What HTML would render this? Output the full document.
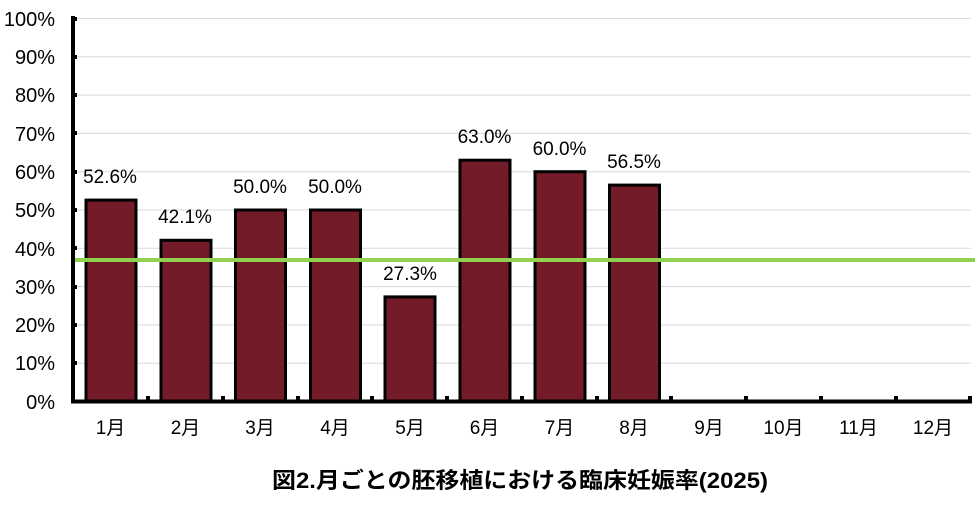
<!DOCTYPE html>
<html><head><meta charset="utf-8"><style>html,body{margin:0;padding:0;background:#fff}svg{display:block}</style></head><body>
<svg width="975" height="513" xmlns="http://www.w3.org/2000/svg" font-family="'Liberation Sans','Noto Sans CJK JP',sans-serif">
<g stroke="#d9d9d9" stroke-width="1">
<line x1="73" x2="971" y1="18.5" y2="18.5"/><line x1="73" x2="971" y1="56.8" y2="56.8"/><line x1="73" x2="971" y1="95.1" y2="95.1"/><line x1="73" x2="971" y1="133.4" y2="133.4"/><line x1="73" x2="971" y1="171.7" y2="171.7"/><line x1="73" x2="971" y1="210" y2="210"/><line x1="73" x2="971" y1="248.3" y2="248.3"/><line x1="73" x2="971" y1="286.6" y2="286.6"/><line x1="73" x2="971" y1="324.9" y2="324.9"/><line x1="73" x2="971" y1="363.2" y2="363.2"/>
</g>
<g fill="#741b29" stroke="#000" stroke-width="3">
<rect x="86" y="200.1" width="50" height="201.4"/>
<rect x="161" y="240.3" width="50" height="161.2"/>
<rect x="235.5" y="210" width="50" height="191.5"/>
<rect x="310.5" y="210" width="50" height="191.5"/>
<rect x="385" y="296.9" width="50" height="104.6"/>
<rect x="460" y="160.2" width="50" height="241.3"/>
<rect x="535" y="171.7" width="50" height="229.8"/>
<rect x="609.5" y="185.1" width="50" height="216.4"/>
</g>
<line x1="73" x2="975" y1="260" y2="260" stroke="#92d050" stroke-width="4"/>
<line x1="73" x2="73" y1="16" y2="403" stroke="#000" stroke-width="4"/>
<line x1="71" x2="972" y1="401.5" y2="401.5" stroke="#000" stroke-width="4"/>
<g fill="#000">
<rect x="73" y="17" width="4" height="4"/><rect x="73" y="55" width="4" height="4"/><rect x="73" y="93" width="4" height="4"/><rect x="73" y="131" width="4" height="4"/><rect x="73" y="170" width="4" height="4"/><rect x="73" y="208" width="4" height="4"/><rect x="73" y="246" width="4" height="4"/><rect x="73" y="285" width="4" height="4"/><rect x="73" y="323" width="4" height="4"/><rect x="73" y="361" width="4" height="4"/>
<rect x="146" y="396" width="4" height="4"/><rect x="221" y="396" width="4" height="4"/><rect x="296" y="396" width="4" height="4"/><rect x="370" y="396" width="4" height="4"/><rect x="445" y="396" width="4" height="4"/><rect x="520" y="396" width="4" height="4"/><rect x="595" y="396" width="4" height="4"/><rect x="669" y="396" width="4" height="4"/><rect x="744" y="396" width="4" height="4"/><rect x="819" y="396" width="4" height="4"/><rect x="894" y="396" width="4" height="4"/><rect x="968" y="396" width="4" height="4"/>
</g>
<g font-size="20" text-anchor="end" fill="#000">
<text x="55" y="26">100%</text><text x="55" y="64">90%</text><text x="55" y="102">80%</text><text x="55" y="141">70%</text><text x="55" y="179">60%</text><text x="55" y="217">50%</text><text x="55" y="256">40%</text><text x="55" y="294">30%</text><text x="55" y="332">20%</text><text x="55" y="370">10%</text><text x="55" y="409">0%</text>
</g>
<g font-size="19" text-anchor="middle" fill="#000">
<text x="110.5" y="434">1月</text><text x="185.5" y="434">2月</text><text x="260" y="434">3月</text><text x="335" y="434">4月</text><text x="410" y="434">5月</text><text x="484.5" y="434">6月</text><text x="559.5" y="434">7月</text><text x="634" y="434">8月</text><text x="709" y="434">9月</text><text x="783.5" y="434">10月</text><text x="858.5" y="434">11月</text><text x="933" y="434">12月</text>
</g>
<g font-size="19" text-anchor="middle" fill="#000">
<text x="110" y="183">52.6%</text><text x="185" y="223">42.1%</text><text x="260" y="193">50.0%</text><text x="335" y="193">50.0%</text><text x="410" y="280">27.3%</text><text x="484.5" y="143">63.0%</text><text x="559.5" y="155">60.0%</text><text x="634" y="168">56.5%</text>
</g>
<text x="272" y="488" font-size="22" font-weight="bold" fill="#000" textLength="496" lengthAdjust="spacingAndGlyphs">図2.月ごとの胚移植における臨床妊娠率(2025)</text>
</svg>
</body></html>
